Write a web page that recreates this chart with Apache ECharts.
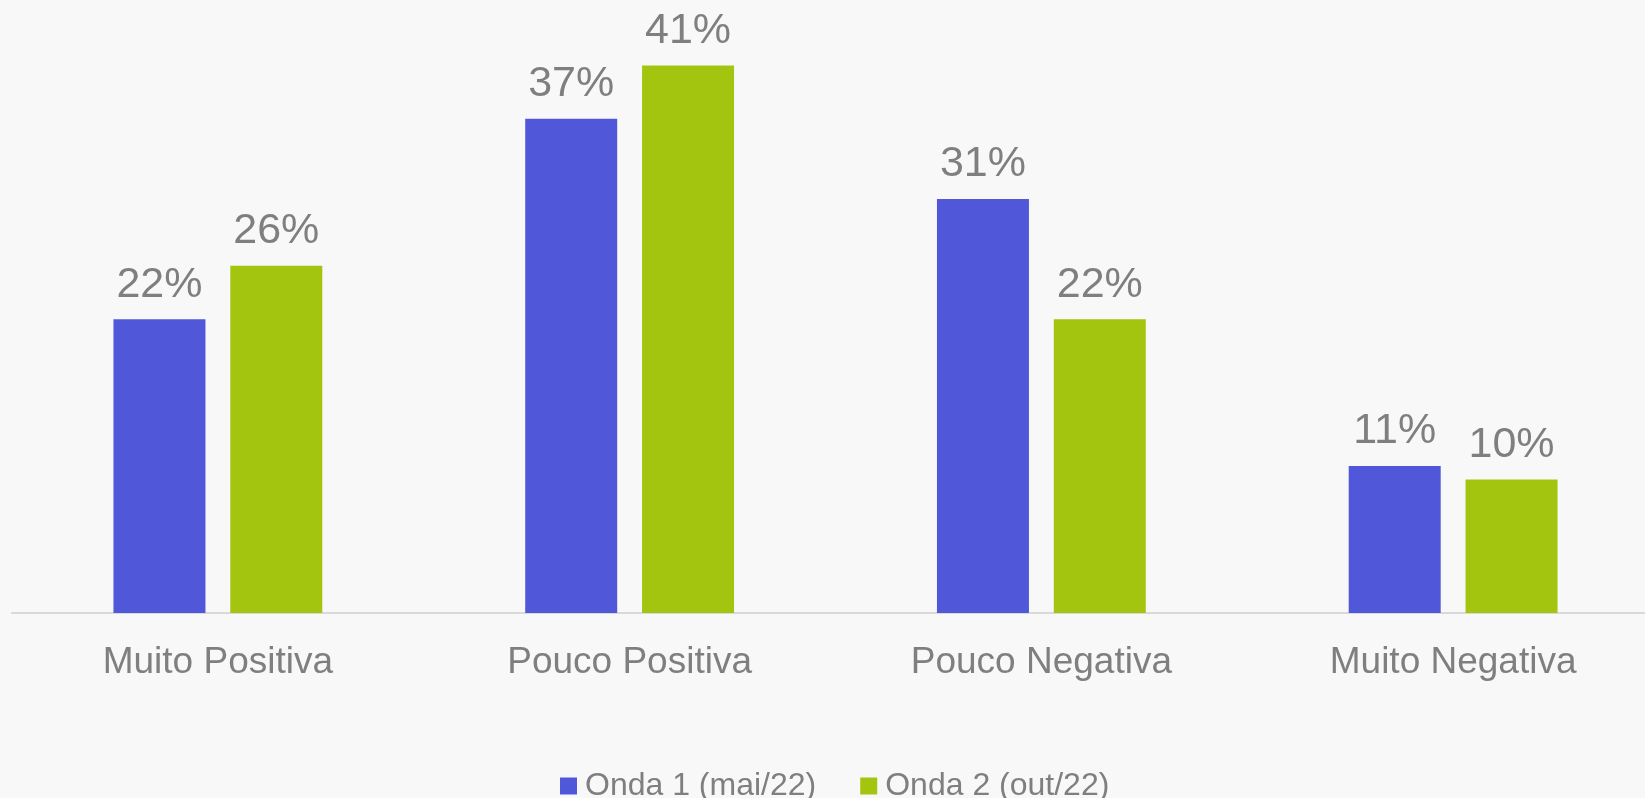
<!DOCTYPE html>
<html>
<head>
<meta charset="utf-8">
<script src="https://cdn.jsdelivr.net/npm/echarts@6/dist/echarts.min.js"></script>
<style>
  html, body { margin: 0; padding: 0; background: #f8f8f8; }
  #chart { width: 1645px; height: 798px; }
</style>
</head>
<body>
<div id="chart"></div>
<script>
// data
var categories = ["Muito Positiva", "Pouco Positiva", "Pouco Negativa", "Muito Negativa"];
var onda1 = [22, 37, 31, 11];
var onda2 = [26, 41, 22, 10];
var seriesNames = ["Onda 1 (mai/22)", "Onda 2 (out/22)"];

var FONT = "'Liberation Sans', Arial, sans-serif";
var GREY = "#7f7f7f";

var chart = echarts.init(document.getElementById("chart"));

function barLabel() {
  return {
    show: true,
    position: "top",
    distance: 13,
    fontSize: 43,
    fontFamily: FONT,
    color: GREY,
    formatter: "{c}%"
  };
}

var option = {
  backgroundColor: "#f8f8f8",
  animation: false,
  grid: {
    left: 12,
    width: 1647,
    top: 12,
    bottom: 185,
    containLabel: false,
    outerBoundsMode: "none"
  },
  legend: {
    data: seriesNames,
    top: 770,
    left: 560,
    padding: 0,
    itemWidth: 17,
    itemHeight: 17,
    itemGap: 44,
    icon: "rect",
    textStyle: {
      fontSize: 32,
      fontFamily: FONT,
      color: GREY,
      padding: [0, 0, 0, 3]
    }
  },
  xAxis: {
    type: "category",
    data: categories,
    axisLine: { show: true, lineStyle: { color: "#d9d9d9", width: 2 } },
    axisTick: { show: false },
    axisLabel: {
      margin: 31,
      fontSize: 37,
      fontFamily: FONT,
      color: GREY
    }
  },
  yAxis: {
    type: "value",
    min: 0,
    max: 45,
    show: false,
    splitLine: { show: false }
  },
  series: [
    {
      name: seriesNames[0],
      type: "bar",
      data: onda1,
      barWidth: 92,
      barGap: "27%",
      itemStyle: { color: "#5057d8" },
      label: barLabel()
    },
    {
      name: seriesNames[1],
      type: "bar",
      data: onda2,
      barWidth: 92,
      itemStyle: { color: "#a4c510" },
      label: barLabel()
    }
  ]
};

chart.setOption(option);
</script>
</body>
</html>
